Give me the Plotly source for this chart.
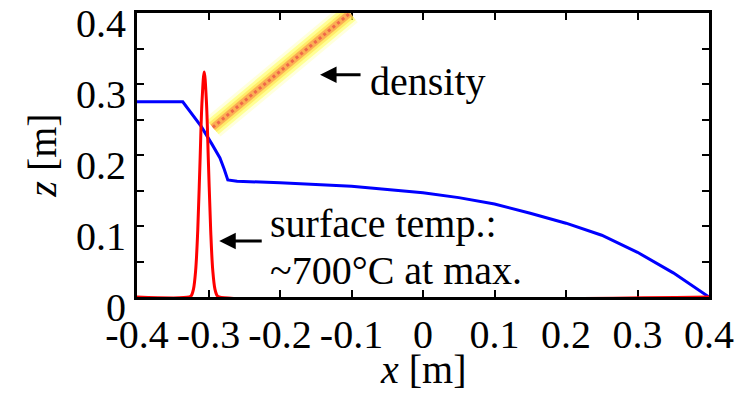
import plotly.graph_objects as go

# Surface profile (blue)
surf_x = [-0.403, -0.403, -0.336, -0.31, -0.295, -0.284, -0.278, -0.273, -0.26, -0.2, -0.1, -0.03, 0.0, 0.05, 0.1, 0.15, 0.2, 0.25, 0.3, 0.35, 0.4]
surf_z = [0.400, 0.275, 0.275, 0.240, 0.215, 0.196, 0.180, 0.165, 0.163, 0.161, 0.156, 0.150, 0.147, 0.140, 0.131, 0.118, 0.104, 0.087, 0.063, 0.034, 0.0]

# Surface temperature peak (red), arbitrary units
temp_x = [-0.4, -0.327, -0.324, -0.321, -0.318, -0.315, -0.312, -0.309, -0.306, -0.303, -0.300, -0.297, -0.294, -0.291, -0.288, -0.285, 0.4]
temp_z = [0.0, 0.0, 0.002, 0.011, 0.037, 0.095, 0.186, 0.277, 0.317, 0.277, 0.186, 0.095, 0.037, 0.011, 0.002, 0.0, 0.0]

# Density band (diagonal streak)
dens_x = [-0.294, -0.102]
dens_z = [0.239, 0.400]

x_ticks = [-0.4, -0.3, -0.2, -0.1, 0, 0.1, 0.2, 0.3, 0.4]
x_labels = ["-0.4", "-0.3", "-0.2", "-0.1", "0", "0.1", "0.2", "0.3", "0.4"]
y_ticks = [0, 0.1, 0.2, 0.3, 0.4]
y_labels = ["0", "0.1", "0.2", "0.3", "0.4"]

FONT = "Liberation Serif"
FS = 40

fig = go.Figure()

glow_layers = [
    (24, "rgba(255,255,120,0.25)"),
    (18, "rgba(255,255,60,0.45)"),
    (12, "rgba(255,225,80,0.65)"),
    (7, "rgba(250,165,80,0.85)"),
]
for w, c in glow_layers:
    fig.add_trace(go.Scatter(x=dens_x, y=dens_z, mode="lines",
                             line=dict(color=c, width=w), hoverinfo="skip", showlegend=False))
fig.add_trace(go.Scatter(x=dens_x, y=dens_z, mode="lines",
                         line=dict(color="#f06848", width=3, dash="dot"), hoverinfo="skip", showlegend=False))

fig.add_trace(go.Scatter(x=surf_x, y=surf_z, mode="lines",
                         line=dict(color="#0000ff", width=3), cliponaxis=False, showlegend=False))
fig.add_trace(go.Scatter(x=temp_x, y=temp_z, mode="lines", line_shape="spline",
                         line=dict(color="#ff0000", width=3), cliponaxis=False, showlegend=False))

# annotations
fig.add_annotation(x=-0.144, y=0.313, ax=42, ay=0, axref="pixel", ayref="pixel",
                   text="", showarrow=True, arrowhead=2, arrowsize=1.1, arrowwidth=3, arrowcolor="black")
fig.add_annotation(x=-0.077, y=0.304, text="density", showarrow=False, xanchor="left", yanchor="middle",
                   font=dict(family=FONT, size=FS, color="black"))
fig.add_annotation(x=-0.285, y=0.079, ax=44, ay=0, axref="pixel", ayref="pixel",
                   text="", showarrow=True, arrowhead=2, arrowsize=1.1, arrowwidth=3, arrowcolor="black")
fig.add_annotation(x=-0.217, y=0.104, text="surface temp.:", showarrow=False, xanchor="left", yanchor="middle",
                   font=dict(family=FONT, size=FS, color="black"))
fig.add_annotation(x=-0.217, y=0.037, text="~700°C at max.", showarrow=False, xanchor="left", yanchor="middle",
                   font=dict(family=FONT, size=FS, color="black"))
# x-axis title placed at the bottom of the figure
fig.add_annotation(x=0.5, xref="paper", y=0, yref="paper", yshift=-96, yanchor="bottom",
                   text="<i>x</i> [m]", showarrow=False, borderpad=0,
                   font=dict(family=FONT, size=FS, color="black"))

fig.update_layout(
    width=752, height=393,
    margin=dict(l=137, r=43, t=13, b=96),
    plot_bgcolor="white", paper_bgcolor="white",
    font=dict(family=FONT, size=FS, color="black"),
    showlegend=False,
)
fig.update_xaxes(range=[-0.4, 0.4], tickvals=x_ticks, ticktext=x_labels,
                 ticks="inside", ticklen=7, tickwidth=2, tickcolor="black",
                 showline=True, linewidth=3, linecolor="black", mirror="ticks",
                 showgrid=False, zeroline=False, layer="below traces",
                 ticklabeloverflow="allow", automargin=False,
                 tickfont=dict(family=FONT, size=FS))
fig.update_yaxes(range=[0, 0.4001], tickvals=y_ticks, ticktext=y_labels,
                 ticks="inside", ticklen=7, tickwidth=2, tickcolor="black",
                 minor=dict(tickvals=[0.05, 0.15, 0.25, 0.35], ticks="inside", ticklen=7, tickwidth=2, tickcolor="black", showgrid=False),
                 showline=True, linewidth=3, linecolor="black", mirror="ticks",
                 showgrid=False, zeroline=False, layer="below traces",
                 ticklabeloverflow="allow", ticklabelshift=10, automargin=False,
                 title=dict(text="<i>z</i> [m]", standoff=8, font=dict(family=FONT, size=FS)),
                 tickfont=dict(family=FONT, size=FS))

fig.write_html("out.html")
